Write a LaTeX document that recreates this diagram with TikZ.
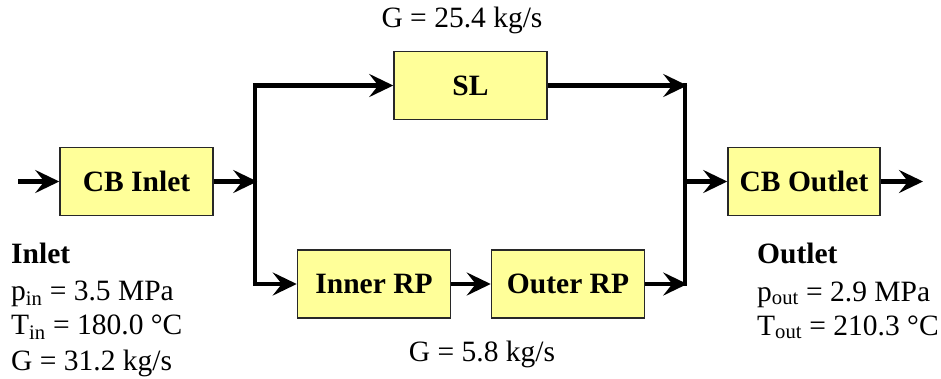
\documentclass[tikz,border=0pt]{standalone}
\usepackage{fontspec}
\setmainfont{Liberation Serif}
\usetikzlibrary{arrows.meta}
\definecolor{boxfill}{RGB}{255,255,153}
\definecolor{boxline}{RGB}{40,40,40}
\tikzset{
  blockbox/.style={draw=boxline, line width=1.5pt, fill=boxfill, minimum width=153pt,
    minimum height=68pt, inner sep=0pt, font=\fontsize{29.5}{34}\selectfont\bfseries},
  flow/.style={line width=4.5pt, -{Stealth[length=24pt, width=23pt, inset=9pt]}},
  pipe/.style={line width=4.5pt},
  lbl/.style={inner sep=0pt, font=\fontsize{29.5}{34}\selectfont},
  lblb/.style={lbl, font=\fontsize{29.5}{34}\selectfont\bfseries}
}
\begin{document}
\begin{tikzpicture}[x=1pt, y=-1pt]
\useasboundingbox (0,0) rectangle (941,378);

% blocks
\node[blockbox] (cbin)  at (136.5,181.5) {CB Inlet};
\node[blockbox] (sl)    at (470.5,85.5)  {SL};
\node[blockbox] (inner) at (374,284)     {Inner RP};
\node[blockbox] (outer) at (568,284)     {Outer RP};
\node[blockbox, minimum width=152pt] (cbout) at (804,181.5) {CB Outlet};

% branch points
\coordinate (src)    at (18,181.5);
\coordinate (split)  at (255,181.5);
\coordinate (splitT) at (255,85.5);
\coordinate (splitB) at (255,284);
\coordinate (joinT)  at (685,85.5);
\coordinate (join)   at (685,181.5);
\coordinate (joinB)  at (685,284);
\coordinate (sink)   at (923,181.5);

% connectors
\draw[flow] (src) -- (cbin.west);
\draw[flow] (cbin.east) -- ([xshift=2.25pt]split);
\draw[pipe, line cap=rect] (splitT) -- (splitB);
\draw[flow] ([xshift=-2.25pt]splitT) -- (sl.west);
\draw[flow] ([xshift=-2.25pt]splitB) -- (inner.west);
\draw[flow] (inner.east) -- (outer.west);
\draw[flow] (sl.east) -- ([xshift=2.25pt]joinT);
\draw[flow] (outer.east) -- ([xshift=2.25pt]joinB);
\draw[pipe, line cap=rect] (joinT) -- (joinB);
\draw[flow] ([xshift=-2.25pt]join) -- (cbout.west);
\draw[flow] (cbout.east) -- (sink);

% flow rates
\node[lbl] (gtop) at (462,20)  {G = 25.4 kg/s};
\node[lbl] (gbot) at (482,354) {G = 5.8 kg/s};

% inlet conditions
\node[lblb, anchor=base west] (inh) at (11,263) {Inlet};
\node[lbl, anchor=base west] (pin) at (11,300) {p\textsubscript{in} = 3.5 MPa};
\node[lbl, anchor=base west] (tin) at (11,334) {T\textsubscript{in} = 180.0 °C};
\node[lbl, anchor=base west] (gin) at (11,370) {G = 31.2 kg/s};

% outlet conditions
\node[lblb, anchor=base west] (outh) at (757,263) {Outlet};
\node[lbl, anchor=base west] (pout) at (757,301) {p\textsubscript{out} = 2.9 MPa};
\node[lbl, anchor=base west] (tout) at (757,335) {T\textsubscript{out} = 210.3 °C};
\end{tikzpicture}
\end{document}
